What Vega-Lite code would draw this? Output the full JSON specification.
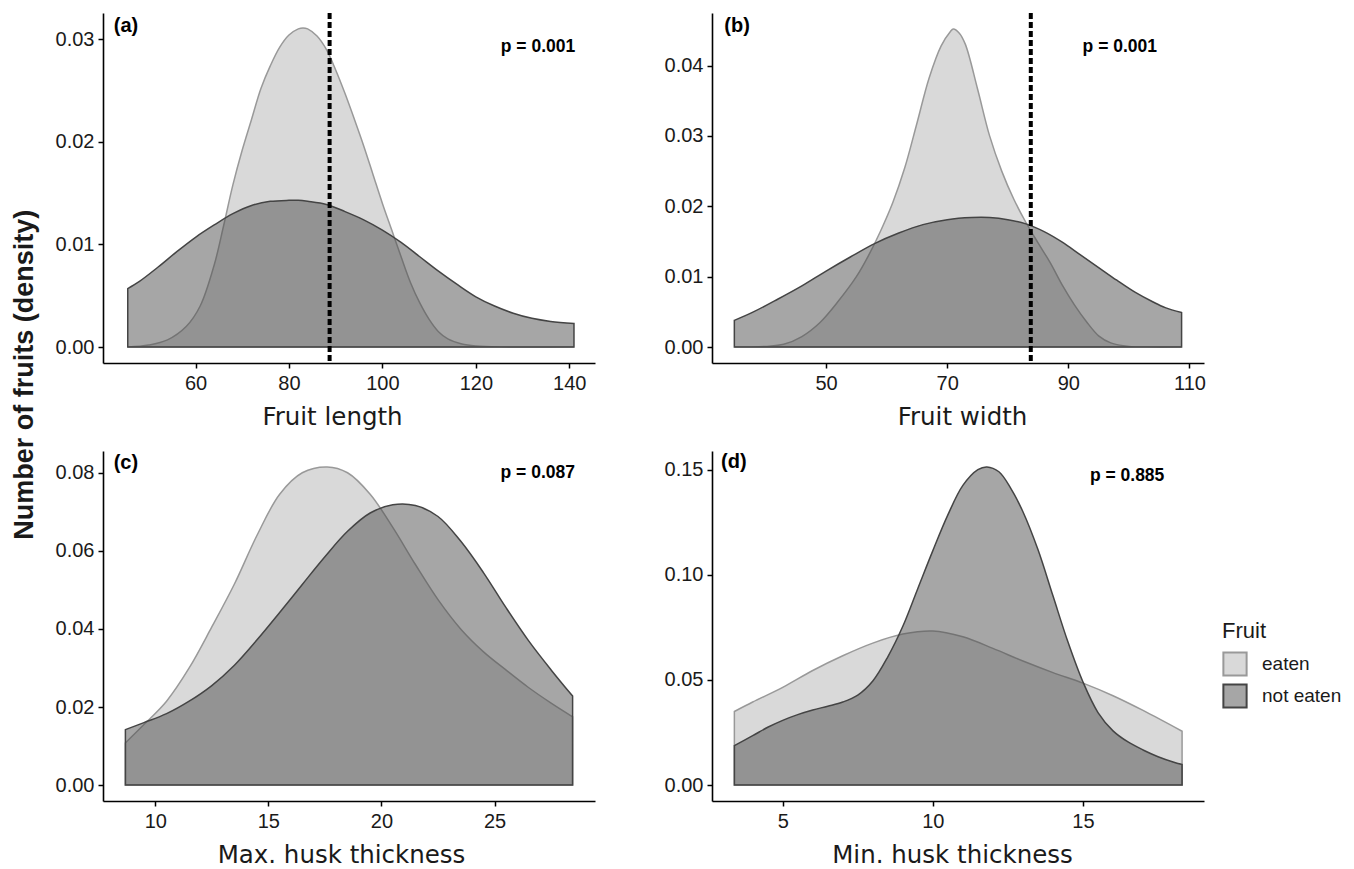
{
  "$schema": "https://vega.github.io/schema/vega-lite/v6.json",
  "background": "white",
  "padding": {"left": 11, "top": 11, "right": 5, "bottom": 5},
  "title": {"text": "Number of fruits (density)", "orient": "left", "anchor": "middle", "font": "Liberation Sans", "fontSize": 27, "fontWeight": "bold", "color": "#1a1a1a", "offset": 16, "dx": 64},
  "datasets": {
    "dens": [
      {"panel":"a","Fruit":"eaten","v":45.5,"d":0},{"panel":"a","Fruit":"eaten","v":50,"d":0.0002},{"panel":"a","Fruit":"eaten","v":54,"d":0.0007},{"panel":"a","Fruit":"eaten","v":58,"d":0.002},{"panel":"a","Fruit":"eaten","v":61,"d":0.004},{"panel":"a","Fruit":"eaten","v":64,"d":0.008},{"panel":"a","Fruit":"eaten","v":66,"d":0.0118},{"panel":"a","Fruit":"eaten","v":68,"d":0.0158},{"panel":"a","Fruit":"eaten","v":70,"d":0.0192},{"panel":"a","Fruit":"eaten","v":72,"d":0.0222},{"panel":"a","Fruit":"eaten","v":74,"d":0.0252},{"panel":"a","Fruit":"eaten","v":76,"d":0.0274},{"panel":"a","Fruit":"eaten","v":78,"d":0.0292},{"panel":"a","Fruit":"eaten","v":80,"d":0.0304},{"panel":"a","Fruit":"eaten","v":82,"d":0.031},{"panel":"a","Fruit":"eaten","v":83,"d":0.0311},{"panel":"a","Fruit":"eaten","v":84,"d":0.031},{"panel":"a","Fruit":"eaten","v":86,"d":0.0303},{"panel":"a","Fruit":"eaten","v":88,"d":0.029},{"panel":"a","Fruit":"eaten","v":90,"d":0.027},{"panel":"a","Fruit":"eaten","v":92,"d":0.0247},{"panel":"a","Fruit":"eaten","v":94,"d":0.0222},{"panel":"a","Fruit":"eaten","v":96,"d":0.0196},{"panel":"a","Fruit":"eaten","v":98,"d":0.0168},{"panel":"a","Fruit":"eaten","v":100,"d":0.014},{"panel":"a","Fruit":"eaten","v":102,"d":0.0114},{"panel":"a","Fruit":"eaten","v":104,"d":0.0088},{"panel":"a","Fruit":"eaten","v":106,"d":0.0063},{"panel":"a","Fruit":"eaten","v":108,"d":0.0043},{"panel":"a","Fruit":"eaten","v":110,"d":0.0027},{"panel":"a","Fruit":"eaten","v":112,"d":0.0015},{"panel":"a","Fruit":"eaten","v":114,"d":0.0008},{"panel":"a","Fruit":"eaten","v":117,"d":0.0003},{"panel":"a","Fruit":"eaten","v":120,"d":0.0001},{"panel":"a","Fruit":"eaten","v":125,"d":0},{"panel":"a","Fruit":"eaten","v":141,"d":0},
      {"panel":"a","Fruit":"not eaten","v":45.5,"d":0.0057},{"panel":"a","Fruit":"not eaten","v":48,"d":0.0064},{"panel":"a","Fruit":"not eaten","v":52,"d":0.0078},{"panel":"a","Fruit":"not eaten","v":56,"d":0.0093},{"panel":"a","Fruit":"not eaten","v":60,"d":0.0107},{"panel":"a","Fruit":"not eaten","v":64,"d":0.0119},{"panel":"a","Fruit":"not eaten","v":68,"d":0.013},{"panel":"a","Fruit":"not eaten","v":72,"d":0.0138},{"panel":"a","Fruit":"not eaten","v":76,"d":0.0142},{"panel":"a","Fruit":"not eaten","v":80,"d":0.0143},{"panel":"a","Fruit":"not eaten","v":82,"d":0.0143},{"panel":"a","Fruit":"not eaten","v":84,"d":0.0142},{"panel":"a","Fruit":"not eaten","v":88,"d":0.0139},{"panel":"a","Fruit":"not eaten","v":92,"d":0.0132},{"panel":"a","Fruit":"not eaten","v":96,"d":0.0124},{"panel":"a","Fruit":"not eaten","v":100,"d":0.0114},{"panel":"a","Fruit":"not eaten","v":104,"d":0.0102},{"panel":"a","Fruit":"not eaten","v":108,"d":0.0088},{"panel":"a","Fruit":"not eaten","v":112,"d":0.0074},{"panel":"a","Fruit":"not eaten","v":116,"d":0.0061},{"panel":"a","Fruit":"not eaten","v":120,"d":0.0049},{"panel":"a","Fruit":"not eaten","v":124,"d":0.004},{"panel":"a","Fruit":"not eaten","v":128,"d":0.0033},{"panel":"a","Fruit":"not eaten","v":132,"d":0.0028},{"panel":"a","Fruit":"not eaten","v":136,"d":0.0025},{"panel":"a","Fruit":"not eaten","v":141,"d":0.0023},
      {"panel":"b","Fruit":"eaten","v":34.85,"d":0},{"panel":"b","Fruit":"eaten","v":40,"d":0.0001},{"panel":"b","Fruit":"eaten","v":43,"d":0.0004},{"panel":"b","Fruit":"eaten","v":46,"d":0.0015},{"panel":"b","Fruit":"eaten","v":49,"d":0.0035},{"panel":"b","Fruit":"eaten","v":52,"d":0.0065},{"panel":"b","Fruit":"eaten","v":55,"d":0.01},{"panel":"b","Fruit":"eaten","v":57,"d":0.013},{"panel":"b","Fruit":"eaten","v":59,"d":0.0165},{"panel":"b","Fruit":"eaten","v":61,"d":0.0205},{"panel":"b","Fruit":"eaten","v":63,"d":0.0255},{"panel":"b","Fruit":"eaten","v":65,"d":0.0318},{"panel":"b","Fruit":"eaten","v":67,"d":0.0382},{"panel":"b","Fruit":"eaten","v":69,"d":0.0428},{"panel":"b","Fruit":"eaten","v":70.5,"d":0.0448},{"panel":"b","Fruit":"eaten","v":71,"d":0.0452},{"panel":"b","Fruit":"eaten","v":72,"d":0.0446},{"panel":"b","Fruit":"eaten","v":73,"d":0.043},{"panel":"b","Fruit":"eaten","v":75,"d":0.0367},{"panel":"b","Fruit":"eaten","v":77,"d":0.03},{"panel":"b","Fruit":"eaten","v":79,"d":0.025},{"panel":"b","Fruit":"eaten","v":81,"d":0.021},{"panel":"b","Fruit":"eaten","v":83,"d":0.0177},{"panel":"b","Fruit":"eaten","v":85,"d":0.0148},{"panel":"b","Fruit":"eaten","v":87,"d":0.012},{"panel":"b","Fruit":"eaten","v":89,"d":0.0088},{"panel":"b","Fruit":"eaten","v":91,"d":0.006},{"panel":"b","Fruit":"eaten","v":93,"d":0.0036},{"panel":"b","Fruit":"eaten","v":95,"d":0.0016},{"panel":"b","Fruit":"eaten","v":97,"d":0.0006},{"panel":"b","Fruit":"eaten","v":100,"d":0.0001},{"panel":"b","Fruit":"eaten","v":103,"d":0},{"panel":"b","Fruit":"eaten","v":108.7,"d":0},
      {"panel":"b","Fruit":"not eaten","v":34.85,"d":0.0038},{"panel":"b","Fruit":"not eaten","v":38,"d":0.005},{"panel":"b","Fruit":"not eaten","v":42,"d":0.0068},{"panel":"b","Fruit":"not eaten","v":46,"d":0.0087},{"panel":"b","Fruit":"not eaten","v":50,"d":0.0108},{"panel":"b","Fruit":"not eaten","v":54,"d":0.0128},{"panel":"b","Fruit":"not eaten","v":58,"d":0.0147},{"panel":"b","Fruit":"not eaten","v":62,"d":0.0162},{"panel":"b","Fruit":"not eaten","v":66,"d":0.0174},{"panel":"b","Fruit":"not eaten","v":70,"d":0.0181},{"panel":"b","Fruit":"not eaten","v":74,"d":0.0184},{"panel":"b","Fruit":"not eaten","v":77,"d":0.0184},{"panel":"b","Fruit":"not eaten","v":80,"d":0.0181},{"panel":"b","Fruit":"not eaten","v":83,"d":0.0175},{"panel":"b","Fruit":"not eaten","v":86,"d":0.0164},{"panel":"b","Fruit":"not eaten","v":89,"d":0.0149},{"panel":"b","Fruit":"not eaten","v":92,"d":0.0131},{"panel":"b","Fruit":"not eaten","v":95,"d":0.0113},{"panel":"b","Fruit":"not eaten","v":98,"d":0.0095},{"panel":"b","Fruit":"not eaten","v":101,"d":0.0078},{"panel":"b","Fruit":"not eaten","v":104,"d":0.0064},{"panel":"b","Fruit":"not eaten","v":106,"d":0.0056},{"panel":"b","Fruit":"not eaten","v":108.7,"d":0.0049},
      {"panel":"c","Fruit":"eaten","v":8.68,"d":0.0108},{"panel":"c","Fruit":"eaten","v":9.5,"d":0.0155},{"panel":"c","Fruit":"eaten","v":10.5,"d":0.0215},{"panel":"c","Fruit":"eaten","v":11.5,"d":0.03},{"panel":"c","Fruit":"eaten","v":12.5,"d":0.0405},{"panel":"c","Fruit":"eaten","v":13.5,"d":0.0515},{"panel":"c","Fruit":"eaten","v":14.5,"d":0.064},{"panel":"c","Fruit":"eaten","v":15.5,"d":0.0745},{"panel":"c","Fruit":"eaten","v":16.5,"d":0.08},{"panel":"c","Fruit":"eaten","v":17.6,"d":0.0815},{"panel":"c","Fruit":"eaten","v":18.5,"d":0.08},{"panel":"c","Fruit":"eaten","v":19.5,"d":0.0745},{"panel":"c","Fruit":"eaten","v":20.5,"d":0.066},{"panel":"c","Fruit":"eaten","v":21.5,"d":0.0565},{"panel":"c","Fruit":"eaten","v":22.5,"d":0.0475},{"panel":"c","Fruit":"eaten","v":23.5,"d":0.04},{"panel":"c","Fruit":"eaten","v":24.5,"d":0.0342},{"panel":"c","Fruit":"eaten","v":25.5,"d":0.0295},{"panel":"c","Fruit":"eaten","v":26.5,"d":0.025},{"panel":"c","Fruit":"eaten","v":27.5,"d":0.021},{"panel":"c","Fruit":"eaten","v":28.45,"d":0.0175},
      {"panel":"c","Fruit":"not eaten","v":8.68,"d":0.0142},{"panel":"c","Fruit":"not eaten","v":9.5,"d":0.016},{"panel":"c","Fruit":"not eaten","v":10.5,"d":0.0183},{"panel":"c","Fruit":"not eaten","v":11.5,"d":0.0215},{"panel":"c","Fruit":"not eaten","v":12.5,"d":0.0255},{"panel":"c","Fruit":"not eaten","v":13.5,"d":0.0307},{"panel":"c","Fruit":"not eaten","v":14.5,"d":0.0372},{"panel":"c","Fruit":"not eaten","v":15.5,"d":0.0442},{"panel":"c","Fruit":"not eaten","v":16.5,"d":0.0514},{"panel":"c","Fruit":"not eaten","v":17.5,"d":0.0585},{"panel":"c","Fruit":"not eaten","v":18.5,"d":0.065},{"panel":"c","Fruit":"not eaten","v":19.5,"d":0.0697},{"panel":"c","Fruit":"not eaten","v":20.5,"d":0.0718},{"panel":"c","Fruit":"not eaten","v":21.5,"d":0.0716},{"panel":"c","Fruit":"not eaten","v":22.5,"d":0.0688},{"panel":"c","Fruit":"not eaten","v":23.5,"d":0.0625},{"panel":"c","Fruit":"not eaten","v":24.5,"d":0.0545},{"panel":"c","Fruit":"not eaten","v":25.5,"d":0.0455},{"panel":"c","Fruit":"not eaten","v":26.5,"d":0.037},{"panel":"c","Fruit":"not eaten","v":27.5,"d":0.0295},{"panel":"c","Fruit":"not eaten","v":28.45,"d":0.0228},
      {"panel":"d","Fruit":"eaten","v":3.39,"d":0.035},{"panel":"d","Fruit":"eaten","v":4,"d":0.0395},{"panel":"d","Fruit":"eaten","v":5,"d":0.0465},{"panel":"d","Fruit":"eaten","v":6,"d":0.0545},{"panel":"d","Fruit":"eaten","v":7,"d":0.0615},{"panel":"d","Fruit":"eaten","v":8,"d":0.0675},{"panel":"d","Fruit":"eaten","v":9,"d":0.0718},{"panel":"d","Fruit":"eaten","v":10,"d":0.0733},{"panel":"d","Fruit":"eaten","v":11,"d":0.0705},{"panel":"d","Fruit":"eaten","v":12,"d":0.065},{"panel":"d","Fruit":"eaten","v":13,"d":0.059},{"panel":"d","Fruit":"eaten","v":14,"d":0.0535},{"panel":"d","Fruit":"eaten","v":15,"d":0.0485},{"panel":"d","Fruit":"eaten","v":16,"d":0.0425},{"panel":"d","Fruit":"eaten","v":17,"d":0.0355},{"panel":"d","Fruit":"eaten","v":18.3,"d":0.0256},
      {"panel":"d","Fruit":"not eaten","v":3.39,"d":0.0188},{"panel":"d","Fruit":"not eaten","v":4,"d":0.0235},{"panel":"d","Fruit":"not eaten","v":4.5,"d":0.0275},{"panel":"d","Fruit":"not eaten","v":5,"d":0.0308},{"panel":"d","Fruit":"not eaten","v":5.5,"d":0.0335},{"panel":"d","Fruit":"not eaten","v":6,"d":0.0357},{"panel":"d","Fruit":"not eaten","v":6.5,"d":0.0375},{"panel":"d","Fruit":"not eaten","v":7,"d":0.0395},{"panel":"d","Fruit":"not eaten","v":7.5,"d":0.0428},{"panel":"d","Fruit":"not eaten","v":8,"d":0.0495},{"panel":"d","Fruit":"not eaten","v":8.5,"d":0.061},{"panel":"d","Fruit":"not eaten","v":9,"d":0.0755},{"panel":"d","Fruit":"not eaten","v":9.5,"d":0.0935},{"panel":"d","Fruit":"not eaten","v":10,"d":0.1115},{"panel":"d","Fruit":"not eaten","v":10.5,"d":0.1285},{"panel":"d","Fruit":"not eaten","v":11,"d":0.1425},{"panel":"d","Fruit":"not eaten","v":11.5,"d":0.15},{"panel":"d","Fruit":"not eaten","v":11.8,"d":0.1513},{"panel":"d","Fruit":"not eaten","v":12.2,"d":0.149},{"panel":"d","Fruit":"not eaten","v":12.6,"d":0.141},{"panel":"d","Fruit":"not eaten","v":13,"d":0.13},{"panel":"d","Fruit":"not eaten","v":13.5,"d":0.112},{"panel":"d","Fruit":"not eaten","v":14,"d":0.09},{"panel":"d","Fruit":"not eaten","v":14.5,"d":0.068},{"panel":"d","Fruit":"not eaten","v":15,"d":0.049},{"panel":"d","Fruit":"not eaten","v":15.5,"d":0.0345},{"panel":"d","Fruit":"not eaten","v":16,"d":0.0258},{"panel":"d","Fruit":"not eaten","v":16.5,"d":0.0205},{"panel":"d","Fruit":"not eaten","v":17,"d":0.0167},{"panel":"d","Fruit":"not eaten","v":17.5,"d":0.0135},{"panel":"d","Fruit":"not eaten","v":18,"d":0.011},{"panel":"d","Fruit":"not eaten","v":18.3,"d":0.0098}
    ],
    "thresholds": [{"panel":"a","value":88.7},{"panel":"b","value":83.8}]
  },
  "columns": 2,
  "spacing": {"row": 88, "column": 117},
  "bounds": "flush",
  "resolve": {"scale": {"fill": "independent", "stroke": "independent"}, "legend": {"fill": "independent", "stroke": "independent"}},
  "concat": [
    {
      "width": 492, "height": 350,
      "layer": [
        {"data": {"name": "dens"}, "transform": [{"filter": "datum.panel == 'a'"}],
         "mark": {"type": "area", "interpolate": "catmull-rom", "fillOpacity": 0.5, "strokeWidth": 1.5},
         "encoding": {
           "x": {"field": "v", "type": "quantitative", "scale": {"domain": [40.2, 145.5], "nice": false, "zero": false}, "axis": {"values": [60, 80, 100, 120, 140], "title": "Fruit length", "titleX": 229}},
           "y": {"field": "d", "type": "quantitative", "scale": {"domain": [-0.00155, 0.03255], "nice": false, "zero": false}, "axis": {"values": [0, 0.01, 0.02, 0.03], "format": ".2f", "title": null}},
           "y2": {"datum": 0},
           "fill": {"field": "Fruit", "type": "nominal", "scale": {"domain": ["eaten", "not eaten"], "range": ["#b3b3b3", "#4d4d4d"]}, "legend": null},
           "stroke": {"field": "Fruit", "type": "nominal", "scale": {"domain": ["eaten", "not eaten"], "range": ["#999999", "#444444"]}, "legend": null}
         }},
        {"data": {"name": "thresholds"}, "transform": [{"filter": "datum.panel == 'a'"}],
         "mark": {"type": "rule", "color": "black", "strokeWidth": 4, "strokeDash": [6, 3]},
         "encoding": {"x": {"field": "value", "type": "quantitative"}}},
        {"data": {"values": [{}]}, "mark": {"type": "text", "text": "(a)", "font": "Liberation Sans", "fontWeight": "bold", "fontSize": 20, "align": "left", "baseline": "middle", "color": "black"},
         "encoding": {"x": {"datum": 42.5}, "y": {"datum": 0.0313}}},
        {"data": {"values": [{}]}, "mark": {"type": "text", "text": "p = 0.001", "font": "Liberation Sans", "fontWeight": "bold", "fontSize": 17.5, "align": "center", "baseline": "middle", "color": "black"},
         "encoding": {"x": {"datum": 133.3}, "y": {"datum": 0.0292}}}
      ]
    },
    {
      "width": 492, "height": 350,
      "layer": [
        {"data": {"name": "dens"}, "transform": [{"filter": "datum.panel == 'b'"}],
         "mark": {"type": "area", "interpolate": "catmull-rom", "fillOpacity": 0.5, "strokeWidth": 1.5},
         "encoding": {
           "x": {"field": "v", "type": "quantitative", "scale": {"domain": [31.16, 112.4], "nice": false, "zero": false}, "axis": {"values": [50, 70, 90, 110], "title": "Fruit width", "titleX": 250}},
           "y": {"field": "d", "type": "quantitative", "scale": {"domain": [-0.00226, 0.04746], "nice": false, "zero": false}, "axis": {"values": [0, 0.01, 0.02, 0.03, 0.04], "format": ".2f", "title": null}},
           "y2": {"datum": 0},
           "fill": {"field": "Fruit", "type": "nominal", "scale": {"domain": ["eaten", "not eaten"], "range": ["#b3b3b3", "#4d4d4d"]}, "legend": null},
           "stroke": {"field": "Fruit", "type": "nominal", "scale": {"domain": ["eaten", "not eaten"], "range": ["#999999", "#444444"]}, "legend": null}
         }},
        {"data": {"name": "thresholds"}, "transform": [{"filter": "datum.panel == 'b'"}],
         "mark": {"type": "rule", "color": "black", "strokeWidth": 4, "strokeDash": [6, 3]},
         "encoding": {"x": {"field": "value", "type": "quantitative"}}},
        {"data": {"values": [{}]}, "mark": {"type": "text", "text": "(b)", "font": "Liberation Sans", "fontWeight": "bold", "fontSize": 20, "align": "left", "baseline": "middle", "color": "black"},
         "encoding": {"x": {"datum": 33.2}, "y": {"datum": 0.0456}}},
        {"data": {"values": [{}]}, "mark": {"type": "text", "text": "p = 0.001", "font": "Liberation Sans", "fontWeight": "bold", "fontSize": 17.5, "align": "center", "baseline": "middle", "color": "black"},
         "encoding": {"x": {"datum": 98.5}, "y": {"datum": 0.0427}}}
      ]
    },
    {
      "width": 492, "height": 350,
      "layer": [
        {"data": {"name": "dens"}, "transform": [{"filter": "datum.panel == 'c'"}],
         "mark": {"type": "area", "interpolate": "catmull-rom", "fillOpacity": 0.5, "strokeWidth": 1.5},
         "encoding": {
           "x": {"field": "v", "type": "quantitative", "scale": {"domain": [7.69, 29.44], "nice": false, "zero": false}, "axis": {"values": [10, 15, 20, 25], "title": "Max. husk thickness", "titleX": 238}},
           "y": {"field": "d", "type": "quantitative", "scale": {"domain": [-0.004075, 0.085575], "nice": false, "zero": false}, "axis": {"values": [0, 0.02, 0.04, 0.06, 0.08], "format": ".2f", "title": null}},
           "y2": {"datum": 0},
           "fill": {"field": "Fruit", "type": "nominal", "scale": {"domain": ["eaten", "not eaten"], "range": ["#b3b3b3", "#4d4d4d"]}, "legend": null},
           "stroke": {"field": "Fruit", "type": "nominal", "scale": {"domain": ["eaten", "not eaten"], "range": ["#999999", "#444444"]}, "legend": null}
         }},
        {"data": {"values": [{}]}, "mark": {"type": "text", "text": "(c)", "font": "Liberation Sans", "fontWeight": "bold", "fontSize": 20, "align": "left", "baseline": "middle", "color": "black"},
         "encoding": {"x": {"datum": 8.16}, "y": {"datum": 0.0826}}},
        {"data": {"values": [{}]}, "mark": {"type": "text", "text": "p = 0.087", "font": "Liberation Sans", "fontWeight": "bold", "fontSize": 17.5, "align": "center", "baseline": "middle", "color": "black"},
         "encoding": {"x": {"datum": 26.91}, "y": {"datum": 0.08}}}
      ]
    },
    {
      "width": 492, "height": 350,
      "layer": [
        {"data": {"name": "dens"}, "transform": [{"filter": "datum.panel == 'd'"}],
         "mark": {"type": "area", "interpolate": "catmull-rom", "fillOpacity": 0.5, "strokeWidth": 1.5},
         "encoding": {
           "x": {"field": "v", "type": "quantitative", "scale": {"domain": [2.645, 19.03], "nice": false, "zero": false}, "axis": {"values": [5, 10, 15], "title": "Min. husk thickness", "titleX": 240}},
           "y": {"field": "d", "type": "quantitative", "scale": {"domain": [-0.007565, 0.158865], "nice": false, "zero": false}, "axis": {"values": [0, 0.05, 0.1, 0.15], "format": ".2f", "title": null}},
           "y2": {"datum": 0},
           "fill": {"field": "Fruit", "type": "nominal", "scale": {"domain": ["eaten", "not eaten"], "range": ["#b3b3b3", "#4d4d4d"]},
             "legend": {"orient": "none", "legendX": 510, "legendY": 170, "title": "Fruit", "titleFont": "Liberation Sans", "titleFontSize": 22, "titleFontWeight": "normal", "titleColor": "#1a1a1a", "titlePadding": 8, "labelFont": "Liberation Sans", "labelFontSize": 19, "labelColor": "#1a1a1a", "labelOffset": 14, "symbolType": "square", "symbolSize": 540, "symbolStrokeColor": "#222222", "symbolStrokeWidth": 2, "rowPadding": 0,
               "encode": {"symbols": {"update": {"fillOpacity": {"value": 0.5}, "stroke": {"value": "#222222"}, "strokeOpacity": {"value": 1}, "strokeWidth": {"value": 2}}}}}},
           "stroke": {"field": "Fruit", "type": "nominal", "scale": {"domain": ["eaten", "not eaten"], "range": ["#999999", "#444444"]}, "legend": null}
         }},
        {"data": {"values": [{}]}, "mark": {"type": "text", "text": "(d)", "font": "Liberation Sans", "fontWeight": "bold", "fontSize": 20, "align": "left", "baseline": "middle", "color": "black"},
         "encoding": {"x": {"datum": 2.945}, "y": {"datum": 0.1537}}},
        {"data": {"values": [{}]}, "mark": {"type": "text", "text": "p = 0.885", "font": "Liberation Sans", "fontWeight": "bold", "fontSize": 17.5, "align": "center", "baseline": "middle", "color": "black"},
         "encoding": {"x": {"datum": 16.47}, "y": {"datum": 0.147}}}
      ]
    }
  ],
  "config": {
    "view": {"stroke": null},
    "axis": {"grid": false, "domainColor": "black", "domainWidth": 1.6, "tickColor": "black", "tickWidth": 1.5, "tickSize": 5, "labelFont": "Liberation Sans", "labelFontSize": 20, "labelColor": "#1a1a1a", "labelPadding": 4, "labelOverlap": false, "labelFlush": false, "titleFont": "DejaVu Sans", "titleFontSize": 24.5, "titleFontWeight": "normal", "titleColor": "#1a1a1a"},
    "axisX": {"labelPadding": 5, "titlePadding": 12}
  }
}
